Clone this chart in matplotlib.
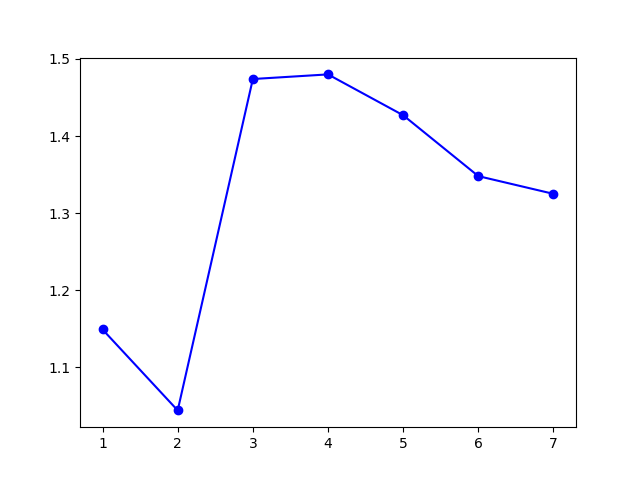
import matplotlib
matplotlib.use('Agg')
import matplotlib.pyplot as plt

# values
x = [1, 2, 3, 4, 5, 6, 7]
y = [1.149, 1.044, 1.474, 1.480, 1.427, 1.348, 1.325]

fig = plt.figure(figsize=(6.4, 4.8), dpi=100)
plt.plot(x, y, 'bo-')
plt.savefig('out.png')
